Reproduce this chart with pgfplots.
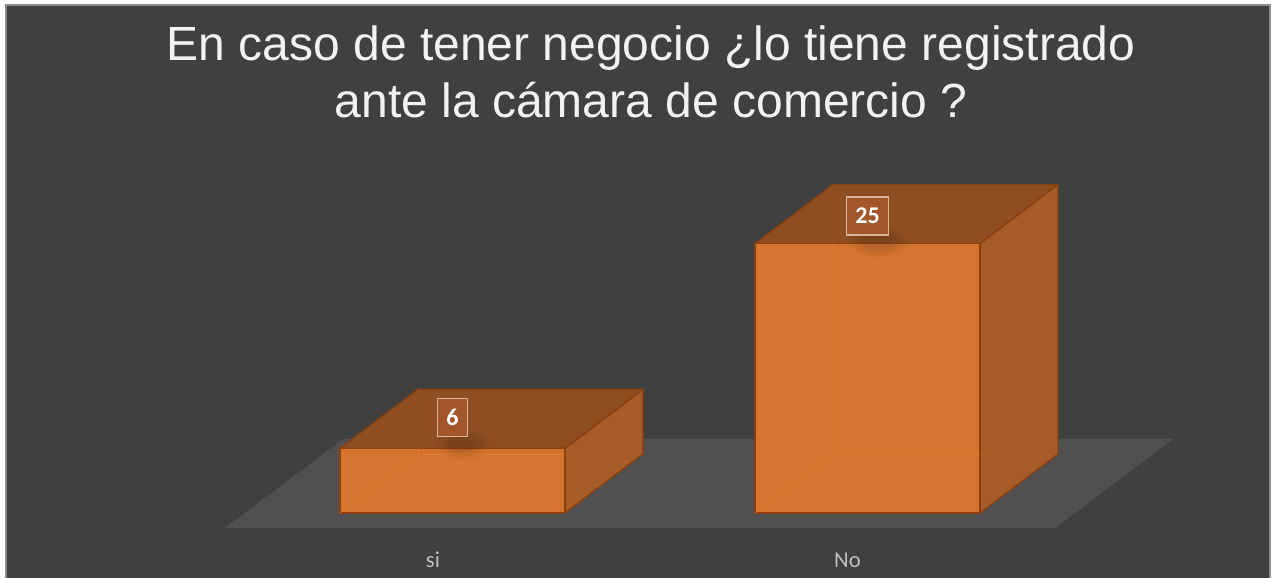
\documentclass[border=0pt]{standalone}
\usepackage{pgfplots}
\pgfplotsset{compat=1.18}
\usepackage{fontspec}
\setmainfont{Liberation Sans}
\newfontfamily\calibri{Carlito}
\definecolor{bg}{HTML}{404040}
\definecolor{floorc}{HTML}{515051}
\definecolor{front}{HTML}{D5732F}
\definecolor{topc}{HTML}{8E4E22}
\definecolor{side}{HTML}{A75B27}
\definecolor{edge}{HTML}{8A3F0F}
\definecolor{hidden}{HTML}{E27A2C}
\definecolor{lblfill}{HTML}{A2562A}
\definecolor{lblborder}{HTML}{D9B49A}
\definecolor{cat}{HTML}{BEBEBE}
\definecolor{frame}{HTML}{8C8C8C}
\begin{document}
\begin{tikzpicture}
\begin{axis}[
  width=954pt, height=433.5pt, scale only axis,
  xmin=-1.0904, xmax=1.9747, ymin=-6.03, ymax=47.59,
  hide axis, clip=false,
]
% background
\fill[white] (axis cs:-1.0904,-6.03) rectangle (axis cs:1.9747,47.59);
\fill[bg] (axis cs:-1.0759,-6.03) rectangle (axis cs:1.9699,47.124);
\draw[frame, line width=1pt] (axis cs:-1.0759,-6.03) -- (axis cs:-1.0759,47.124) -- (axis cs:1.9699,47.124) -- (axis cs:1.9699,-6.03);
% floor
\addplot[fill=floorc, draw=none] coordinates {(-0.5506,-1.438) (1.4518,-1.438) (1.7361,6.865) (-0.2639,6.865)} -- cycle;
% side faces
\addplot[fill=side, draw=edge, line width=1pt] coordinates {(0.271,0) (0.459,5.473) (0.459,11.473) (0.271,6)} -- cycle;
\addplot[fill=side, draw=edge, line width=1pt] coordinates {(1.271,0) (1.459,5.473) (1.459,30.473) (1.271,25)} -- cycle;
% top faces
\addplot[fill=topc, draw=edge, line width=1pt] coordinates {(-0.271,6) (0.271,6) (0.459,11.473) (-0.083,11.473)} -- cycle;
\addplot[fill=topc, draw=edge, line width=1pt] coordinates {(0.729,25) (1.271,25) (1.459,30.473) (0.917,30.473)} -- cycle;
% front faces (data)
\addplot[ybar, bar width=0.542, fill=front, draw=edge, line width=1pt] coordinates {(0,6) (1,25)};
% hidden edges seen through the translucent bars
\addplot[hidden, line width=0.8pt, opacity=0.6] coordinates {(-0.271,0) (-0.083,5.473) (0.271,5.473)};
\addplot[hidden, line width=0.8pt, opacity=0.6] coordinates {(-0.083,5.473) (-0.083,6)};
\addplot[topc!80!front, line width=0.8pt, opacity=0.6] coordinates {(-0.083,6) (-0.083,11.473)};
\addplot[hidden, line width=0.8pt, opacity=0.6] coordinates {(0.729,0) (0.917,5.473) (1.271,5.473)};
\addplot[hidden, line width=0.8pt, opacity=0.6] coordinates {(0.917,5.473) (0.917,25)};
\addplot[topc!80!front, line width=0.8pt, opacity=0.6] coordinates {(0.917,25) (0.917,30.473)};
% soft label shadows
\fill[black, opacity=0.025] (axis cs:0.025,6.4) ellipse[x radius=20pt, y radius=12pt];
\fill[black, opacity=0.03] (axis cs:0.025,6.4) ellipse[x radius=17pt, y radius=10pt];
\fill[black, opacity=0.035] (axis cs:0.025,6.4) ellipse[x radius=14pt, y radius=8pt];
\fill[black, opacity=0.04] (axis cs:0.025,6.4) ellipse[x radius=11pt, y radius=6pt];
\fill[black, opacity=0.025] (axis cs:1.025,25.2) ellipse[x radius=22pt, y radius=12pt];
\fill[black, opacity=0.03] (axis cs:1.025,25.2) ellipse[x radius=19pt, y radius=10pt];
\fill[black, opacity=0.035] (axis cs:1.025,25.2) ellipse[x radius=16pt, y radius=8pt];
\fill[black, opacity=0.04] (axis cs:1.025,25.2) ellipse[x radius=13pt, y radius=6pt];
% data labels
\node[draw=lblborder, line width=0.9pt, fill=lblfill, text=white, font=\calibri\bfseries\fontsize{18}{20}\selectfont,
  inner xsep=6.5pt, minimum height=28.5pt] at (axis cs:0,8.85) {6};
\node[draw=lblborder, line width=0.9pt, fill=lblfill, text=white, font=\calibri\bfseries\fontsize{18}{20}\selectfont,
  inner xsep=6.5pt, minimum height=28.5pt] at (axis cs:1,27.55) {25};
% category labels
\node[text=cat, font=\calibri\fontsize{17}{20}\selectfont, anchor=base] at (axis cs:-0.0470,-5.01) {si};
\node[text=cat, font=\calibri\fontsize{17}{20}\selectfont, anchor=base] at (axis cs:0.9518,-5.01) {No};
% title
\node[text=white!95!black, font=\fontsize{36}{42}\selectfont, anchor=base] at (axis cs:0.4783,42.02) {En caso de tener negocio ¿lo tiene registrado};
\node[text=white!95!black, font=\fontsize{36}{42}\selectfont, anchor=base] at (axis cs:0.4783,36.73) {ante la cámara de comercio ?};
\end{axis}
\end{tikzpicture}
\end{document}
